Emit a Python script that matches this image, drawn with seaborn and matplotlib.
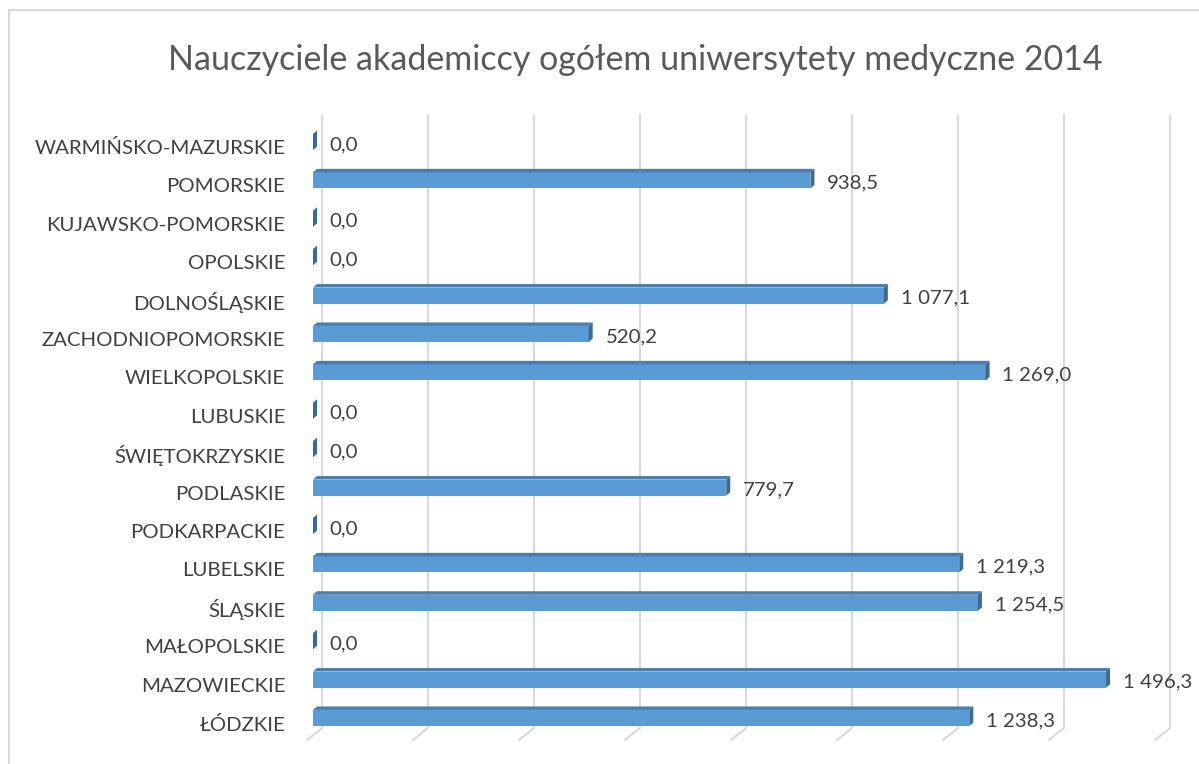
import numpy as np
import pandas as pd
import matplotlib
matplotlib.use('Agg')
import matplotlib.pyplot as plt
import seaborn as sns
from matplotlib.patches import Polygon
from matplotlib.lines import Line2D
from matplotlib.transforms import ScaledTranslation, IdentityTransform

# data (top to bottom as in the chart)
regions = ['WARMIŃSKO-MAZURSKIE', 'POMORSKIE', 'KUJAWSKO-POMORSKIE', 'OPOLSKIE',
           'DOLNOŚLĄSKIE', 'ZACHODNIOPOMORSKIE', 'WIELKOPOLSKIE', 'LUBUSKIE',
           'ŚWIĘTOKRZYSKIE', 'PODLASKIE', 'PODKARPACKIE', 'LUBELSKIE',
           'ŚLĄSKIE', 'MAŁOPOLSKIE', 'MAZOWIECKIE', 'ŁÓDZKIE']
values = [0.0, 938.5, 0.0, 0.0, 1077.1, 520.2, 1269.0, 0.0,
          0.0, 779.7, 0.0, 1219.3, 1254.5, 0.0, 1496.3, 1238.3]
grid_ticks = [0, 200, 400, 600, 800, 1000, 1200, 1400, 1600]
title = 'Nauczyciele akademiccy ogółem uniwersytety medyczne 2014'

df = pd.DataFrame({'region': regions, 'value': values})

sns.set_theme(style='white')
plt.rcParams['font.family'] = ['Lato', 'DejaVu Sans']

W, H = 1199, 764
fig = plt.figure(figsize=(W / 100, H / 100), dpi=100)
ax = fig.add_axes([313 / W, 1 - 737.2 / H, 848 / W, (737.2 - 122.8) / H])
ax.patch.set_alpha(0)

sns.barplot(data=df, y='region', x='value', orient='h', color='#5b9bd5',
            saturation=1, width=0.42, linewidth=0, ax=ax, zorder=3)
ax.set_xlim(0, 1600)
ax.set_ylim(15.5, -0.5)
for s in ax.spines.values():
    s.set_visible(False)
ax.set_xlabel('')
ax.set_ylabel('')
ax.set_xticks([])

# tick labels
ax.set_yticks(range(len(regions)))
ax.set_yticklabels(regions)
ax.tick_params(axis='y', length=0, pad=20, labelsize=14.7, labelcolor='#404040')
for lbl in ax.get_yticklabels():
    lbl.set_transform(lbl.get_transform() + ScaledTranslation(0, -5 / 100, fig.dpi_scale_trans))

# back wall grid lines with floor edge
ident = IdentityTransform()
for v in grid_ticks:
    X = ax.transData.transform((v, 0))[0] + 9
    ax.add_line(Line2D([X, X, X - 15], [H - 115, H - 728, H - 740], color='#d9d9d9',
                       lw=1.5, transform=ident, clip_on=False, zorder=1))

# 3D faces of bars
dx, dy = 4, 3.5
for p in ax.patches:
    x0, y0 = p.get_x(), p.get_y()
    (X0, Ya), (X1, Yb) = ax.transData.transform([(x0, y0), (x0 + p.get_width(), y0 + p.get_height())])
    Ybot, Ytop = min(Ya, Yb), max(Ya, Yb)
    top = Polygon([(X0, Ytop), (X1, Ytop), (X1 + dx, Ytop + dy), (X0 + dx, Ytop + dy)],
                  closed=True, facecolor='#4a7db0', edgecolor='none', transform=ident, zorder=3)
    side = Polygon([(X1, Ybot), (X1, Ytop), (X1 + dx, Ytop + dy), (X1 + dx, Ybot + dy)],
                   closed=True, facecolor='#3b6a97', edgecolor='none', transform=ident, zorder=3)
    ax.add_patch(top)
    ax.add_patch(side)


def fmt(v):
    return f'{v:,.1f}'.replace(',', ' ').replace('.', ',')


for i, v in enumerate(values):
    ax.annotate(fmt(v), xy=(v, i), xytext=(12, -1.8), textcoords='offset points',
                va='center', ha='left', fontsize=14.7, color='#404040', annotation_clip=False)

# title
fig.text(635.5 / W, 1 - 70 / H, title, ha='center', va='baseline', fontsize=24.5, color='#595959')

# chart border (left and top edges visible)
fig.add_artist(Line2D([9 / W, 9 / W, 1.0], [0.0, 1 - 10 / H, 1 - 10 / H],
                      color='#d9d9d9', lw=1.5, transform=fig.transFigure))

fig.savefig('out.png', dpi=100)
